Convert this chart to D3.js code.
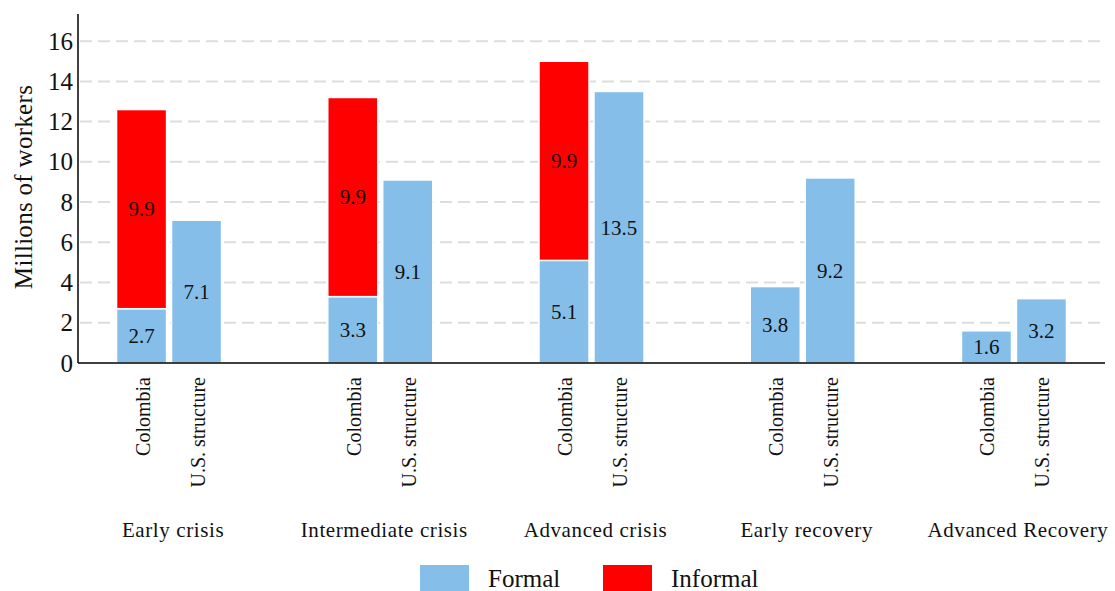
<!DOCTYPE html>
<html>
<head>
<meta charset="utf-8">
<script src="https://cdn.jsdelivr.net/npm/d3@7"></script>
<style>
    body { margin: 0; background: #fff; }
    svg text { font-family: "Liberation Serif", "Times New Roman", serif !important; fill: #111; }
</style>
</head>
<body>
<div id="chart"></div>
<script>
// data
const stages = ['Early crisis', 'Intermediate crisis', 'Advanced crisis', 'Early recovery', 'Advanced Recovery'];
const scenarios = ['Colombia', 'U.S. structure'];
const colombiaFormal = [2.7, 3.3, 5.1, 3.8, 1.6];
const colombiaInformal = [9.9, 9.9, 9.9, 0, 0];
const usFormal = [7.1, 9.1, 13.5, 9.2, 3.2];
const yTicks = [0, 2, 4, 6, 8, 10, 12, 14, 16];
const seriesNames = ['Formal', 'Informal'];
const seriesColors = ['#85bfe9', '#ff0000'];

let width = 1115, height = 591;
let margin = {left: 78, right: 10, top: 14, bottom: 228};
let serif = '"Liberation Serif", "Times New Roman", serif';

let svg = d3.select('#chart')
    .append('svg')
    .attr('width', width)
    .attr('height', height)
    .style('font-family', serif);

let x0 = d3.scalePoint()
    .domain(stages)
    .range([margin.left, width - margin.right])
    .padding(0.431);

let x1 = d3.scaleBand()
    .domain(scenarios)
    .range([-52.5, 52.5])
    .paddingInner(0.09);

let y = d3.scaleLinear()
    .domain([0, 17.35])
    .range([height - margin.bottom, margin.top]);

// build stacked rows: one per (stage, scenario)
let rows = [];
stages.forEach((s, i) => {
    rows.push({stage: s, scenario: 'Colombia', Formal: colombiaFormal[i], Informal: colombiaInformal[i]});
    rows.push({stage: s, scenario: 'U.S. structure', Formal: usFormal[i], Informal: 0});
});
let stack = d3.stack().keys(seriesNames)(rows);

// grid
svg.append('g')
    .selectAll('line')
    .data(yTicks.filter(d => d > 0))
    .enter()
    .append('line')
    .attr('x1', margin.left + 2)
    .attr('x2', width - margin.right)
    .attr('y1', d => y(d))
    .attr('y2', d => y(d))
    .attr('stroke', '#dddddd')
    .attr('stroke-width', 2)
    .attr('stroke-dasharray', '12,6');

// bars
let layers = svg.append('g')
    .selectAll('g')
    .data(stack)
    .enter()
    .append('g')
    .attr('fill', (d, i) => seriesColors[i]);

layers.selectAll('rect')
    .data(d => d.filter(p => p[1] - p[0] > 0))
    .enter()
    .append('rect')
    .attr('x', d => x0(d.data.stage) + x1(d.data.scenario))
    .attr('width', x1.bandwidth())
    .attr('y', d => y(d[1]))
    .attr('height', d => y(d[0]) - y(d[1]))
    .attr('stroke', '#fff')
    .attr('stroke-width', 1.5);

// value labels
layers.selectAll('text')
    .data(d => d.filter(p => p[1] - p[0] > 0))
    .enter()
    .append('text')
    .attr('x', d => x0(d.data.stage) + x1(d.data.scenario) + x1.bandwidth() / 2)
    .attr('y', d => y((d[0] + d[1]) / 2))
    .attr('dy', '0.35em')
    .attr('text-anchor', 'middle')
    .style('font-size', '21px')
    .text(d => d3.format('.1f')(d[1] - d[0]));

// y axis
let yAxis = svg.append('g')
    .attr('transform', 'translate(' + margin.left + ',0)')
    .call(d3.axisLeft(y).tickValues(yTicks).tickSize(0).tickPadding(5));
yAxis.attr('font-family', null).attr('font-size', null);
yAxis.select('.domain').remove();
yAxis.selectAll('text')
    .style('font-size', '25px')
    .style('font-family', serif)
    .attr('fill', '#111');

svg.append('line')
    .attr('x1', margin.left).attr('x2', margin.left)
    .attr('y1', margin.top).attr('y2', y(0))
    .attr('stroke', '#000').attr('stroke-width', 1.5);
svg.append('line')
    .attr('x1', margin.left).attr('x2', width - margin.right)
    .attr('y1', y(0)).attr('y2', y(0))
    .attr('stroke', '#000').attr('stroke-width', 1.5);

svg.append('text')
    .attr('transform', 'translate(32,' + 187 + ') rotate(-90)')
    .attr('text-anchor', 'middle')
    .style('font-size', '25px')
    .attr('letter-spacing', 0.3)
    .text('Millions of workers');

// rotated scenario labels
let cells = [];
stages.forEach(s => scenarios.forEach(c => cells.push({stage: s, scenario: c})));
svg.append('g')
    .selectAll('text')
    .data(cells)
    .enter()
    .append('text')
    .attr('transform', d => 'translate(' + (x0(d.stage) + x1(d.scenario) + x1.bandwidth() / 2 + 1) + ',' + 377 + ') rotate(-90)')
    .attr('dy', '0.35em')
    .attr('text-anchor', 'end')
    .style('font-size', '20px')
    .text(d => d.scenario);

// stage labels
svg.append('g')
    .selectAll('text')
    .data(stages)
    .enter()
    .append('text')
    .attr('x', d => x0(d) + 4)
    .attr('y', 537)
    .attr('text-anchor', 'middle')
    .style('font-size', '21px')
    .attr('letter-spacing', 0.6)
    .text(d => d);

// legend
let legendX = [420, 603];
let legend = svg.append('g')
    .selectAll('g')
    .data(seriesNames)
    .enter()
    .append('g')
    .attr('transform', (d, i) => 'translate(' + legendX[i] + ',565)');
legend.append('rect')
    .attr('width', 49)
    .attr('height', 26)
    .attr('fill', (d, i) => seriesColors[i]);
legend.append('text')
    .attr('x', 68)
    .attr('y', 22)
    .style('font-size', '25px')
    .text(d => d);
</script>
</body>
</html>
